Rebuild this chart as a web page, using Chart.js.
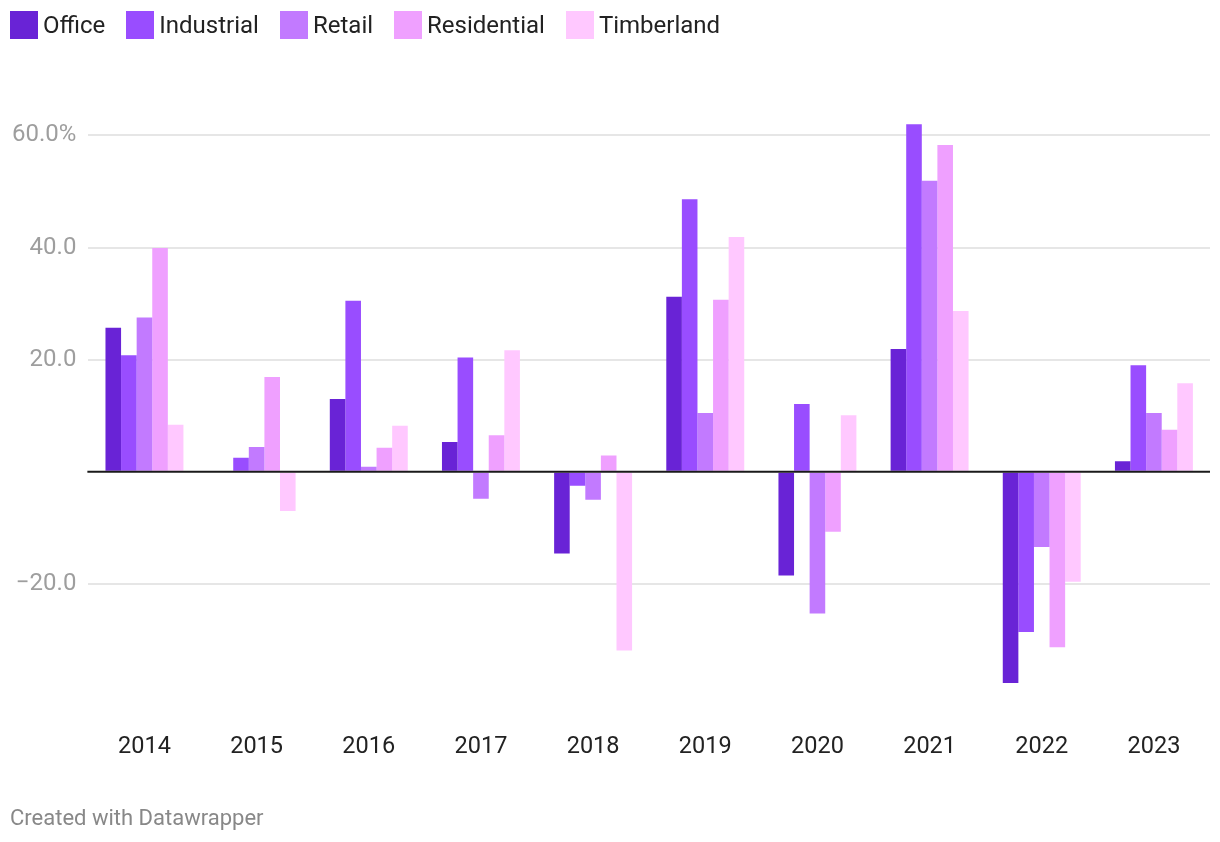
<!DOCTYPE html>
<html>
<head>
<meta charset="utf-8">
<script src="https://cdn.jsdelivr.net/npm/chart.js@4"></script>
<style>
  html, body { margin: 0; padding: 0; background: #fff; }
  body { width: 1220px; height: 842px; position: relative; font-family: Roboto, sans-serif; overflow: hidden; }
  #wrap { position: absolute; left: 0; top: 0; width: 1220px; height: 842px; }
  #legend { position: absolute; left: 10px; top: 11px; display: flex; font-size: 24px; color: #222; }
  #legend .item { display: flex; align-items: center; margin-right: 21px; }
  #legend .box { width: 28px; height: 28px; margin-right: 5px; }
  #footer { position: absolute; left: 10px; top: 805px; font-size: 22px; color: #888; }
</style>
</head>
<body>
<div id="wrap"><canvas id="chart"></canvas></div>
<div id="legend"></div>
<div id="footer">Created with Datawrapper</div>
<script>
const years = ['2014', '2015', '2016', '2017', '2018', '2019', '2020', '2021', '2022', '2023'];
const office      = [25.7, 0.2, 13.0, 5.3, -14.6, 31.2, -18.5, 21.9, -37.7, 1.9];
const industrial  = [20.8, 2.5, 30.5, 20.4, -2.5, 48.6, 12.1, 62.0, -28.6, 19.0];
const retail      = [27.5, 4.4, 0.9, -4.8, -5.0, 10.5, -25.3, 51.9, -13.4, 10.5];
const residential = [39.9, 16.9, 4.3, 6.5, 2.9, 30.7, -10.7, 58.3, -31.3, 7.5];
const timberland  = [8.4, -7.0, 8.2, 21.7, -31.9, 41.9, 10.1, 28.7, -19.6, 15.8];
const yTicks = [-20, 0, 20, 40, 60];

const series = [
  { label: 'Office', data: office, color: '#6923d6' },
  { label: 'Industrial', data: industrial, color: '#994dff' },
  { label: 'Retail', data: retail, color: '#c27aff' },
  { label: 'Residential', data: residential, color: '#efa0ff' },
  { label: 'Timberland', data: timberland, color: '#ffc8ff' }
];

// zero line drawn over the bars
const zeroLine = {
  id: 'zeroLine',
  afterDatasetsDraw(chart) {
    const { ctx, chartArea, scales } = chart;
    const y = scales.y.getPixelForValue(0);
    ctx.save();
    ctx.strokeStyle = '#1a1a1a';
    ctx.lineWidth = 2;
    ctx.beginPath();
    ctx.moveTo(chartArea.left - 1, y);
    ctx.lineTo(chartArea.right, y);
    ctx.stroke();
    ctx.restore();
  }
};

const chart = new Chart(document.getElementById('chart'), {
  type: 'bar',
  data: {
    labels: years,
    datasets: series.map(s => ({
      label: s.label,
      data: s.data,
      backgroundColor: s.color,
      borderWidth: 0,
      barPercentage: 1,
      categoryPercentage: 0.695
    }))
  },
  options: {
    responsive: true,
    maintainAspectRatio: false,
    animation: false,
    layout: { padding: { top: 113, bottom: 33, left: 0, right: 10 } },
    plugins: {
      legend: { display: false },
      tooltip: { enabled: false }
    },
    scales: {
      x: {
        grid: { display: false, drawTicks: false },
        border: { display: false },
        ticks: { color: '#222', padding: 48, font: { family: 'Roboto', size: 23.5 } },
        // the big tick padding would otherwise also pad the sides
        afterFit: axis => { axis.paddingLeft = 0; axis.paddingRight = 0; }
      },
      y: {
        min: -38,
        max: 64,
        afterBuildTicks: axis => { axis.ticks = yTicks.map(v => ({ value: v })); },
        grid: {
          drawTicks: false,
          lineWidth: 2,
          color: c => (c.tick && c.tick.value === 0) ? 'rgba(0,0,0,0)' : '#e6e6e6'
        },
        border: { display: false },
        ticks: {
          color: '#9e9e9e',
          padding: 12,
          font: { family: 'Roboto', size: 24 },
          callback: v => {
            if (v === 0) return '';
            if (v === 60) return '60.0%';
            return v < 0 ? '\u2212' + Math.abs(v).toFixed(1) : v.toFixed(1);
          }
        }
      }
    }
  },
  plugins: [zeroLine]
});

const legend = document.getElementById('legend');
chart.data.datasets.forEach(ds => {
  const item = document.createElement('div');
  item.className = 'item';
  const box = document.createElement('span');
  box.className = 'box';
  box.style.background = ds.backgroundColor;
  const txt = document.createElement('span');
  txt.textContent = ds.label;
  item.appendChild(box);
  item.appendChild(txt);
  legend.appendChild(item);
});
</script>
</body>
</html>
